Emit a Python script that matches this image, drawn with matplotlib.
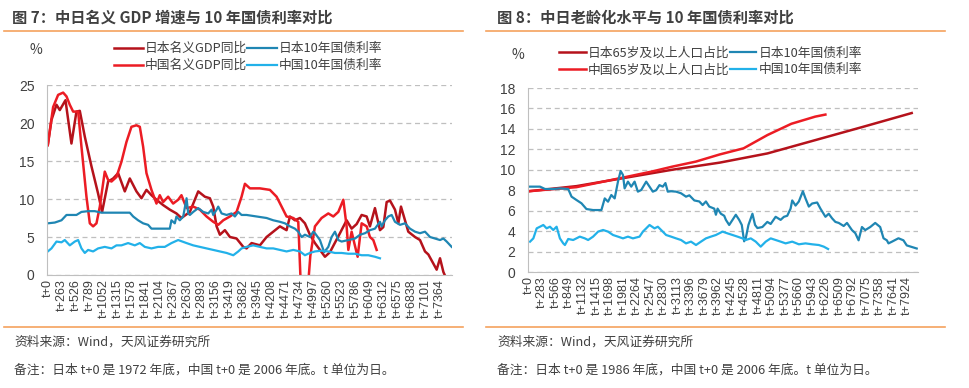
import matplotlib
matplotlib.use('Agg')
import matplotlib.pyplot as plt
from matplotlib.lines import Line2D

plt.rcParams['font.family'] = ['Noto Sans CJK SC', 'DejaVu Sans']

# ---------- 图7 数据 (t 为天) ----------
jp_gdp_t = [0, 69, 163, 225, 332, 444, 538, 601, 695, 820, 945, 1020, 1133, 1227, 1321,
            1446, 1540, 1665, 1759, 1853, 1947, 2041, 2166, 2291, 2416, 2510, 2668, 2825,
            2950, 3044, 3107, 3170, 3232, 3326, 3420, 3545, 3671, 3733, 3827, 3983, 4109,
            4234, 4359, 4484, 4547, 4641, 4735, 4829, 4923, 5017, 5205, 5299, 5487, 5612,
            5706, 5800, 5894, 5988, 6050, 6144, 6238, 6301, 6364, 6426, 6520, 6583, 6633,
            6708, 6770, 6896, 6990, 7084, 7147, 7241, 7303, 7366, 7429, 7473]
jp_gdp = [17.1, 20.4, 22.4, 21.7, 23.0, 17.3, 21.5, 21.6, 18.2, 14.3, 10.7, 8.3, 12.3, 12.7,
          13.4, 11.0, 12.7, 11.0, 10.1, 11.2, 10.5, 9.9, 9.2, 8.6, 8.1, 7.5, 8.3, 11.0,
          10.3, 10.1, 9.0, 6.4, 5.3, 5.9, 5.0, 4.8, 3.7, 3.5, 4.2, 3.9, 5.0,
          5.7, 6.4, 5.9, 7.7, 7.2, 7.5, 6.8, 5.3, 4.2, 2.4, 3.0, 5.5, 7.2,
          6.1, 6.7, 7.9, 7.7, 6.4, 8.8, 5.9, 6.3, 9.6, 9.8, 8.6, 6.8, 9.0,
          7.2, 5.7, 5.0, 4.6, 3.1, 2.7, 1.5, 0.7, 2.2, 0.4, -0.3]

cn_gdp_t = [0, 100, 194, 288, 351, 413, 476, 570, 632, 726, 789, 851, 914, 977, 1070, 1133,
            1196, 1290, 1383, 1477, 1571, 1665, 1728, 1790, 1853, 1947, 2041, 2103, 2166,
            2260, 2354, 2448, 2510, 2606, 2731, 2856, 2981, 3107, 3201, 3295, 3420, 3545,
            3639, 3702, 3796, 3983, 4171, 4297, 4391, 4484, 4610, 4704, 4760, 4811, 4870,
            4930, 5017, 5142, 5268, 5362, 5456, 5550, 5612, 5644, 5706, 5756, 5819, 5894,
            5988, 6050, 6113, 6176]
cn_gdp = [17.1, 22.1, 23.7, 24.0, 23.5, 22.4, 21.5, 21.5, 16.9, 10.3, 6.8, 6.4, 6.8, 9.0, 13.6,
          12.5, 12.3, 12.9, 14.9, 17.5, 19.5, 19.7, 19.5, 16.9, 13.4, 11.2, 9.4, 10.5, 9.6,
          10.3, 9.4, 9.9, 10.5, 8.8, 9.0, 8.6, 7.7, 7.0, 6.6, 7.2, 7.7, 8.3,
          10.3, 12.0, 11.4, 11.4, 11.2, 10.3, 9.0, 7.7, 7.5, 7.0, -3.0, -5.0, -3.0,
          2.5, 6.4, 7.5, 8.1, 7.7, 8.3, 9.9, 6.4, 3.3, 5.7, 4.2, 2.4, 6.8,
          6.4, 5.0, 4.6, 3.3]

jp_10y_t = [0, 131, 257, 351, 538, 632, 757, 883, 1008, 1540, 1603, 1696, 1790, 1884, 1947,
            2291, 2322, 2385, 2416, 2479, 2543, 2606, 2637, 2668, 2731, 2825, 2919, 3013,
            3076, 3107, 3170, 3201, 3264, 3358, 3451, 3514, 3577, 3639, 3733, 3921, 4109,
            4234, 4359, 4453, 4547, 4641, 4704, 4767, 4829, 4923, 4986, 5017, 5111, 5190,
            5268, 5330, 5393, 5456, 5518, 5644, 5769, 5863, 5957, 6050, 6144, 6238, 6270,
            6332, 6395, 6458, 6520, 6614, 6708, 6802, 6896, 6990, 7084, 7178, 7272, 7366,
            7429, 7491, 7585]
jp_10y = [6.8, 6.9, 7.2, 7.9, 7.9, 8.3, 8.4, 8.4, 8.2, 8.2, 7.7, 7.2, 6.8, 6.6, 6.1,
          6.1, 7.2, 6.8, 7.7, 7.2, 7.7, 10.1, 8.1, 7.9, 8.3, 8.8, 8.3, 8.1,
          8.6, 7.9, 8.6, 9.0, 8.1, 7.9, 8.1, 7.7, 8.3, 7.9, 7.9, 7.7, 7.5,
          7.2, 7.0, 6.8, 6.4, 6.1, 5.7, 5.0, 5.3, 5.0, 5.7, 5.5, 4.6, 3.0,
          3.7, 5.0, 5.7, 4.6, 4.4, 4.6, 4.8, 5.3, 5.5, 5.9, 6.1, 7.0, 6.4,
          7.2, 7.7, 7.9, 7.0, 6.6, 6.8, 6.1, 5.7, 5.5, 5.7, 5.0, 4.8, 4.6,
          4.8, 4.4, 3.7]

cn_10y_t = [0, 69, 163, 257, 319, 413, 507, 570, 632, 695, 757, 851, 945, 1070, 1196, 1290,
            1383, 1508, 1634, 1728, 1822, 1947, 2072, 2197, 2322, 2448, 2606, 2731, 2856,
            2981, 3107, 3232, 3358, 3483, 3577, 3639, 3733, 3858, 3983, 4109, 4234, 4359,
            4484, 4610, 4735, 4829, 4923, 5017, 5142, 5268, 5393, 5518, 5644, 5769, 5894,
            6019, 6144, 6238]
cn_10y = [3.1, 3.5, 4.4, 4.3, 4.6, 3.9, 4.4, 4.6, 3.5, 2.9, 3.3, 3.1, 3.5, 3.7, 3.5, 3.9,
          3.9, 4.2, 3.9, 4.2, 3.7, 3.5, 3.7, 3.7, 4.2, 4.6, 4.2, 3.9, 3.7,
          3.5, 3.3, 3.1, 2.9, 2.6, 3.1, 3.5, 3.7, 3.9, 3.7, 3.5, 3.5, 3.3,
          3.1, 3.3, 3.1, 2.6, 2.9, 3.1, 3.2, 3.1, 2.9, 2.9, 2.8, 2.8, 2.6,
          2.6, 2.4, 2.2]

# ---------- 图8 数据 ----------
jp_old_t = [0, 1000, 2000, 3000, 4000, 5000, 6000, 7000, 8020]
jp_old = [7.9, 8.4, 9.2, 10.0, 10.7, 11.6, 12.9, 14.2, 15.55]
cn_old_t = [0, 1000, 2000, 2600, 3000, 3500, 4000, 4500, 5000, 5500, 6000, 6213]
cn_old = [7.9, 8.3, 9.26, 9.85, 10.3, 10.8, 11.5, 12.1, 13.4, 14.5, 15.2, 15.4]

jp_10y_b_t = [28, 236, 341, 514, 653, 827, 897, 1001, 1105, 1209, 1348, 1522, 1592, 1661,
              1730, 1800, 1869, 1925, 1974, 2008, 2078, 2147, 2217, 2286, 2356, 2460, 2530,
              2599, 2669, 2738, 2808, 2863, 2912, 2981, 3086, 3190, 3294, 3364, 3468, 3572,
              3642, 3711, 3781, 3885, 3920, 3955, 4024, 4094, 4129, 4198, 4268, 4337, 4407,
              4462, 4511, 4545, 4601, 4685, 4740, 4789, 4893, 4997, 5067, 5171, 5275, 5345,
              5414, 5484, 5518, 5588, 5657, 5741, 5796, 5866, 5935, 6040, 6109, 6214, 6283,
              6353, 6422, 6492, 6596, 6665, 6769, 6839, 6908, 6978, 7047, 7152, 7256, 7360,
              7430, 7500, 7534, 7604, 7743, 7847, 7917, 8021, 8125]
jp_10y_b = [8.35, 8.35, 8.12, 8.12, 8.18, 8.12, 7.37, 7.04, 6.72, 6.16, 6.06, 6.06, 7.2, 6.88,
            7.53, 7.2, 8.84, 9.88, 9.49, 8.18, 8.84, 8.35, 8.84, 7.86, 8.02, 8.84, 8.35,
            7.86, 8.0, 8.5, 8.35, 8.7, 7.86, 7.9, 7.86, 7.7, 7.37, 7.5, 7.0, 6.9,
            6.55, 6.9, 6.4, 6.2, 5.6, 6.2, 5.7, 5.5, 5.1, 4.6, 5.1, 5.6, 5.1,
            4.6, 3.0, 3.3, 4.6, 5.7, 4.6, 4.3, 4.4, 4.9, 4.7, 5.4, 5.1, 5.4,
            5.5, 6.2, 7.0, 6.5, 6.9, 7.9, 7.2, 6.4, 6.7, 6.8, 6.2, 5.4, 5.7,
            5.25, 4.9, 4.8, 4.5, 4.8, 4.1, 3.8, 3.1, 4.4, 4.1, 4.4, 4.8, 4.4,
            3.3, 3.1, 2.8, 2.96, 3.3, 3.1, 2.6, 2.45, 2.3]

cn_10y_b_t = [28, 97, 167, 236, 306, 375, 445, 514, 584, 653, 723, 758, 827, 931, 1070, 1175,
              1244, 1348, 1453, 1557, 1661, 1765, 1869, 1974, 2078, 2182, 2321, 2391, 2460,
              2530, 2634, 2704, 2773, 2877, 2981, 3086, 3190, 3294, 3398, 3503, 3607, 3711,
              3815, 3920, 4059, 4163, 4268, 4372, 4476, 4545, 4650, 4754, 4858, 4963, 5067,
              5171, 5275, 5380, 5518, 5657, 5796, 5935, 6075, 6179, 6269]
cn_10y_b = [2.97, 3.29, 4.27, 4.43, 4.6, 4.27, 4.43, 4.11, 4.43, 3.29, 2.8, 2.64, 3.23, 3.13,
            3.46, 3.29, 3.13, 3.46, 3.95, 4.11, 3.95, 3.62, 3.46, 3.29, 3.46, 3.29, 3.46,
            3.95, 4.27, 4.6, 4.27, 4.43, 4.11, 3.62, 3.46, 3.29, 3.13, 2.8, 2.97, 2.64,
            2.97, 3.29, 3.46, 3.62, 3.95, 3.78, 3.62, 3.46, 3.29, 3.13, 3.29, 2.97, 2.48,
            2.97, 3.29, 3.13, 2.97, 2.8, 2.97, 2.71, 2.8, 2.71, 2.64, 2.48, 2.25]

DARK_RED = '#B5121B'
RED = '#EC1C24'
TEAL = '#1F86B3'
CYAN = '#22B1E9'
GREY = '#BFBFBF'
TXT = '#404040'
ORANGE = '#F5A25D'


def style_axes(ax, ymax, ystep, tstep, xmax):
    ax.set_xlim(-15, xmax)
    ax.set_ylim(0, ymax)
    ax.set_yticks(range(0, ymax + 1, ystep))
    ax.yaxis.grid(True, ls=(0, (4, 3)), color=GREY, lw=0.9)
    ax.set_axisbelow(True)
    for s in ['top', 'right']:
        ax.spines[s].set_visible(False)
    for s in ['left', 'bottom']:
        ax.spines[s].set_color(GREY)
    ticks = [i * tstep for i in range(29)]
    ax.set_xticks(ticks)
    ax.set_xticklabels(['t+%d' % t for t in ticks], rotation=90,
                       fontfamily='Liberation Sans', fontsize=9, color=TXT)
    for lab in ax.get_yticklabels():
        lab.set_fontfamily('Liberation Sans')
    ax.tick_params(axis='y', length=0, pad=9, labelsize=10, labelcolor=TXT)
    ax.tick_params(axis='x', length=0, pad=3)


fig = plt.figure(figsize=(9.69, 3.88), dpi=100)

# ---- 图7 ----
ax1 = fig.add_axes([47 / 969, 1 - 275 / 388, 405 / 969, 190 / 388])
l1, = ax1.plot(jp_gdp_t, jp_gdp, color=DARK_RED, lw=1.8, label='日本名义GDP同比')
l2, = ax1.plot(cn_gdp_t, cn_gdp, color=RED, lw=1.8, label='中国名义GDP同比')
l3, = ax1.plot(jp_10y_t, jp_10y, color=TEAL, lw=1.6, label='日本10年国债利率')
l4, = ax1.plot(cn_10y_t, cn_10y, color=CYAN, lw=1.6, label='中国10年国债利率')
style_axes(ax1, 25, 5, 263, 7591)
ax1.legend(handles=[l1, l2, l3, l4], ncol=2, loc='upper left', bbox_to_anchor=(0.165, 1.225),
           frameon=False, fontsize=9.2, handlelength=2.3, handletextpad=0.15, columnspacing=0,
           labelspacing=0.3, borderpad=0, borderaxespad=0, labelcolor=TXT)

# ---- 图8 ----
ax2 = fig.add_axes([528 / 969, 1 - 272 / 388, 390 / 969, 184 / 388])
m1, = ax2.plot(jp_old_t, jp_old, color=DARK_RED, lw=1.8, label='日本65岁及以上人口占比')
m2, = ax2.plot(cn_old_t, cn_old, color=RED, lw=1.8, label='中国65岁及以上人口占比')
m3, = ax2.plot(jp_10y_b_t, jp_10y_b, color=TEAL, lw=1.6, label='日本10年国债利率')
m4, = ax2.plot(cn_10y_b_t, cn_10y_b, color=CYAN, lw=1.6, label='中国10年国债利率')
style_axes(ax2, 18, 2, 283, 8152)
ax2.legend(handles=[m1, m2, m3, m4], ncol=2, loc='upper left', bbox_to_anchor=(0.08, 1.225),
           frameon=False, fontsize=9.2, handlelength=2.1, handletextpad=0.15, columnspacing=0,
           labelspacing=0.3, borderpad=0, borderaxespad=0, labelcolor=TXT)

# ---- 标题、单位、来源 ----
fig.text(30 / 969, 1 - 50 / 388, '%', fontsize=10, color=TXT, va='center')
fig.text(511 / 969, 1 - 55 / 388, '%', fontsize=10, color=TXT, va='center')

fig.text(12 / 969, 1 - 18 / 388, '图 7：中日名义 GDP 增速与 10 年国债利率对比',
         fontsize=11, fontweight='bold', color=TXT, va='center')
fig.text(497 / 969, 1 - 18 / 388, '图 8：中日老龄化水平与 10 年国债利率对比',
         fontsize=11, fontweight='bold', color=TXT, va='center')

for x0, x1 in [(4, 463), (486, 945)]:
    for yy in [31, 327]:
        fig.add_artist(Line2D([x0 / 969, x1 / 969], [1 - yy / 388, 1 - yy / 388],
                              color=ORANGE, lw=1.2))

fig.text(14 / 969, 1 - 342 / 388, '资料来源：Wind，天风证券研究所', fontsize=9.2, color=TXT, va='center')
fig.text(14 / 969, 1 - 370 / 388, '备注：日本 t+0 是 1972 年底，中国 t+0 是 2006 年底。t 单位为日。',
         fontsize=9.2, color=TXT, va='center')
fig.text(497 / 969, 1 - 342 / 388, '资料来源：Wind，天风证券研究所', fontsize=9.2, color=TXT, va='center')
fig.text(497 / 969, 1 - 370 / 388, '备注：日本 t+0 是 1986 年底，中国 t+0 是 2006 年底。t 单位为日。',
         fontsize=9.2, color=TXT, va='center')

fig.savefig('out.png', dpi=100)
